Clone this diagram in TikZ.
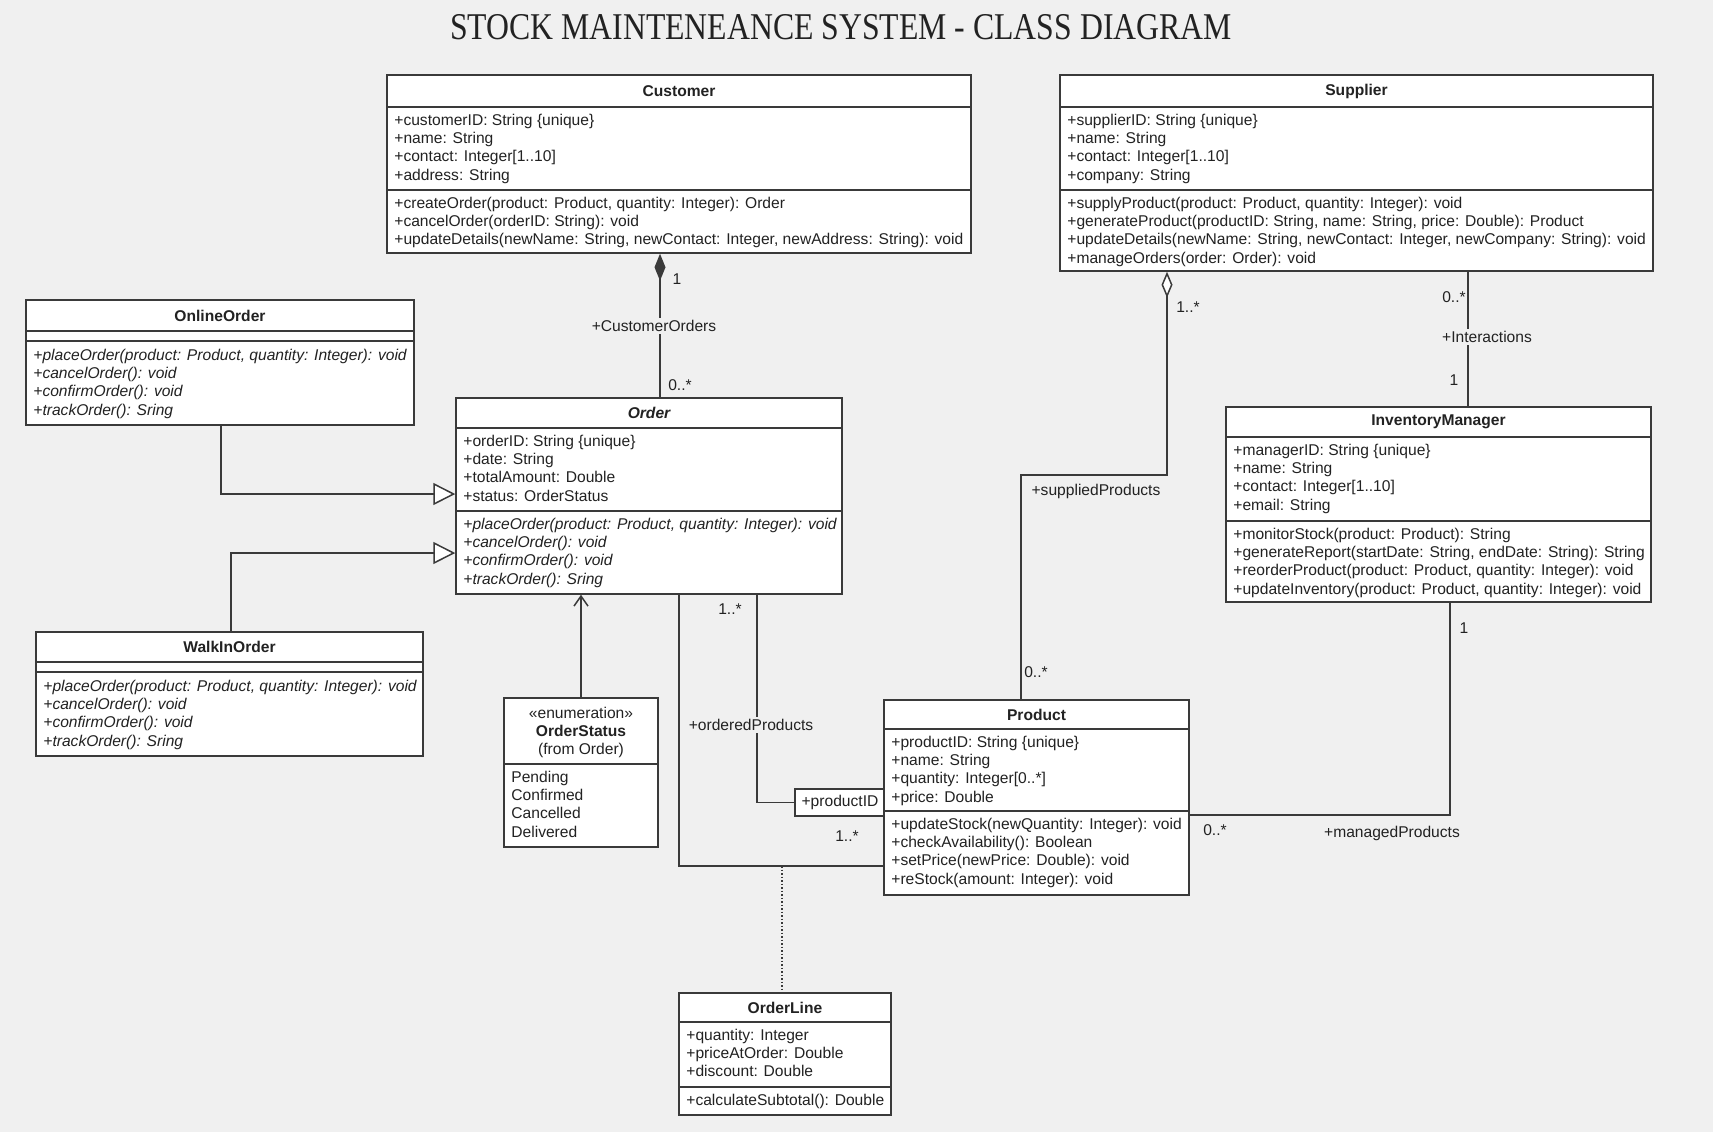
\documentclass[tikz,border=0pt]{standalone}
\usepackage{fontspec}
\setmainfont{Liberation Sans}
\newfontfamily\titlefont{Liberation Serif}
\usetikzlibrary{arrows.meta,fit}
\definecolor{bgc}{HTML}{F0F0F0}
\definecolor{linec}{HTML}{3A3A3A}
\definecolor{textc}{HTML}{222222}
\newcommand\bodyfont{\fontsize{7.8pt}{9.2pt}\selectfont}
\newcommand\rowtxt[1]{\hbox{#1}}
\newcommand\umlclass[8]{%
  \node[cls, fit={(#2,#3) (#4,#5)}] (#1) {};
  \draw[sepline] (#2,#6) -- (#4,#6);
  \if\relax\detokenize{#7}\relax\else\draw[sepline] (#2,#7) -- (#4,#7);\fi
  \node[ttl] (#1-title) at ({(#2+#4)/2},{(#3+#6)/2}) {#8};
}
\tikzset{
  cls/.style={draw=linec, line width=0.75pt, fill=white, inner sep=0pt},
  sepline/.style={draw=linec, line width=0.75pt},
  txt/.style={font=\bodyfont, text=textc, inner sep=0pt, anchor=base west},
  ttl/.style={font=\bodyfont\bfseries, text=textc, inner sep=0pt},
  lbl/.style={font=\bodyfont, text=textc, inner sep=1pt},
  lblbg/.style={lbl, fill=bgc},
  conn/.style={draw=linec, line width=0.75pt},
}
\begin{document}
\begin{tikzpicture}[x=0.5pt, y=-0.5pt]
\fill[bgc] (0,0) rectangle (1713,1132);
\useasboundingbox (0,0) rectangle (1713,1132);

\node[inner sep=0pt, text=textc] (title) at (841,27)
  {\scalebox{0.84}[1]{\titlefont\fontsize{18.9pt}{22pt}\selectfont STOCK MAINTENEANCE SYSTEM - CLASS DIAGRAM}};

% ---------- classes ----------
\umlclass{customer}{387}{75}{971}{253}{107}{190}{Customer}
\node[txt] (customer-a) at (394,125) {\vtop{%
  \rowtxt{+customerID: String \{unique\}}\rowtxt{+name: String}%
  \rowtxt{+contact: Integer[1..10]}\rowtxt{+address: String}}};
\node[txt] (customer-o) at (394,208) {\vtop{%
  \rowtxt{+createOrder(product: Product, quantity: Integer): Order}%
  \rowtxt{+cancelOrder(orderID: String): void}%
  \rowtxt{+updateDetails(newName: String, newContact: Integer, newAddress: String): void}}};

\umlclass{supplier}{1060}{75}{1653}{271}{107}{190}{Supplier}
\node[txt] (supplier-a) at (1067,125) {\vtop{%
  \rowtxt{+supplierID: String \{unique\}}\rowtxt{+name: String}%
  \rowtxt{+contact: Integer[1..10]}\rowtxt{+company: String}}};
\node[txt] (supplier-o) at (1067,208) {\vtop{%
  \rowtxt{+supplyProduct(product: Product, quantity: Integer): void}%
  \rowtxt{+generateProduct(productID: String, name: String, price: Double): Product}%
  \rowtxt{+updateDetails(newName: String, newContact: Integer, newCompany: String): void}%
  \rowtxt{+manageOrders(order: Order): void}}};

\umlclass{online}{26}{300}{414}{425}{331}{341}{OnlineOrder}
\node[txt] (online-o) at (33,360) {\vtop{\itshape
  \rowtxt{+placeOrder(product: Product, quantity: Integer): void}%
  \rowtxt{+cancelOrder(): void}\rowtxt{+confirmOrder(): void}\rowtxt{+trackOrder(): Sring}}};

\umlclass{order}{456}{398}{842}{594}{428}{511}{\itshape Order}
\node[txt] (order-a) at (463,446) {\vtop{%
  \rowtxt{+orderID: String \{unique\}}\rowtxt{+date: String}%
  \rowtxt{+totalAmount: Double}\rowtxt{+status: OrderStatus}}};
\node[txt] (order-o) at (463,529) {\vtop{\itshape
  \rowtxt{+placeOrder(product: Product, quantity: Integer): void}%
  \rowtxt{+cancelOrder(): void}\rowtxt{+confirmOrder(): void}\rowtxt{+trackOrder(): Sring}}};

\umlclass{walkin}{36}{632}{423}{756}{662}{672}{WalkInOrder}
\node[txt] (walkin-o) at (43,691) {\vtop{\itshape
  \rowtxt{+placeOrder(product: Product, quantity: Integer): void}%
  \rowtxt{+cancelOrder(): void}\rowtxt{+confirmOrder(): void}\rowtxt{+trackOrder(): Sring}}};

% enumeration
\node[cls, fit={(504,698) (658,847)}] (status) {};
\draw[sepline] (504,764) -- (658,764);
\node[lbl, inner sep=0pt] (status-st) at (581,713) {«enumeration»};
\node[ttl] (status-title) at (581,731) {OrderStatus};
\node[lbl, inner sep=0pt] (status-from) at (581,750) {(from Order)};
\node[txt] (status-v) at (511,782) {\vtop{%
  \rowtxt{Pending}\rowtxt{Confirmed}\rowtxt{Cancelled}\rowtxt{Delivered}}};

\umlclass{product}{884}{700}{1189}{895}{729}{811}{Product}
\node[txt] (product-a) at (891,747) {\vtop{%
  \rowtxt{+productID: String \{unique\}}\rowtxt{+name: String}%
  \rowtxt{+quantity: Integer[0..*]}\rowtxt{+price: Double}}};
\node[txt] (product-o) at (891,829) {\vtop{%
  \rowtxt{+updateStock(newQuantity: Integer): void}%
  \rowtxt{+checkAvailability(): Boolean}%
  \rowtxt{+setPrice(newPrice: Double): void}%
  \rowtxt{+reStock(amount: Integer): void}}};

\umlclass{manager}{1226}{407}{1651}{602}{437}{521}{InventoryManager}
\node[txt] (manager-a) at (1233,455) {\vtop{%
  \rowtxt{+managerID: String \{unique\}}\rowtxt{+name: String}%
  \rowtxt{+contact: Integer[1..10]}\rowtxt{+email: String}}};
\node[txt] (manager-o) at (1233,539) {\vtop{%
  \rowtxt{+monitorStock(product: Product): String}%
  \rowtxt{+generateReport(startDate: String, endDate: String): String}%
  \rowtxt{+reorderProduct(product: Product, quantity: Integer): void}%
  \rowtxt{+updateInventory(product: Product, quantity: Integer): void}}};

\umlclass{orderline}{679}{993}{891}{1115}{1022}{1087}{OrderLine}
\node[txt] (orderline-a) at (686,1040) {\vtop{%
  \rowtxt{+quantity: Integer}\rowtxt{+priceAtOrder: Double}\rowtxt{+discount: Double}}};
\node[txt] (orderline-o) at (686,1105) {\vtop{\rowtxt{+calculateSubtotal(): Double}}};

% qualifier
\node[cls, fit={(795,789) (884,816)}] (qual) {};
\node[lbl, inner sep=0pt] (qual-t) at (840,802) {+productID};

% ---------- connector guide coordinates ----------
\coordinate (xcomp) at (660,0);
\coordinate (xagg) at (1167,0);
\coordinate (yagg) at (0,475);
\coordinate (xprod) at (1021,0);
\coordinate (xint) at (1468,0);
\coordinate (xon) at (221,0);
\coordinate (yon) at (0,494);
\coordinate (xwalk) at (231,0);
\coordinate (ywalk) at (0,553);
\coordinate (xst) at (581,0);
\coordinate (xop) at (757,0);
\coordinate (xol) at (679,0);
\coordinate (yol) at (0,866);
\coordinate (assoc) at (782,866);
\coordinate (xman) at (1450,0);
\coordinate (yman) at (0,815);

% ---------- connectors ----------
\draw[conn, -{Diamond[length=13.5pt,width=5.5pt,fill=linec]}]
  (order.north -| xcomp) -- (customer.south -| xcomp);
\draw[conn, -{Diamond[length=13pt,width=5.5pt,fill=white]}]
  (product.north -| xprod) |- (yagg -| xagg) -- (supplier.south -| xagg);
\draw[conn] (manager.north -| xint) -- (supplier.south -| xint);
\draw[conn, -{Triangle[length=11pt,width=11pt,fill=white]}]
  (online.south -| xon) |- (order.west |- yon);
\draw[conn, -{Triangle[length=11pt,width=11pt,fill=white]}]
  (walkin.north -| xwalk) |- (order.west |- ywalk);
\draw[conn, -{Straight Barb[length=5pt,width=7pt]}]
  (status.north -| xst) -- (order.south -| xst);
\draw[conn] (order.south -| xop) |- (qual.west);
\draw[conn] (order.south -| xol) |- (product.west |- yol);
\draw[conn, densely dotted] (assoc) -- (orderline.north -| assoc);
\draw[conn] (product.east |- yman) -| (manager.south -| xman);

% ---------- labels ----------
\node[lbl] (l1) at (677,279) {1};
\node[lblbg] (l2) at (654,326) {+CustomerOrders};
\node[lbl] (l3) at (680,385) {0..*};
\node[lbl] (l4) at (1188,307) {1..*};
\node[lbl] (l5) at (1096,491) {+suppliedProducts};
\node[lbl] (l6) at (1036,672) {0..*};
\node[lbl] (l7) at (1454,297) {0..*};
\node[lblbg] (l8) at (1487,337) {+Interactions};
\node[lbl] (l9) at (1454,380) {1};
\node[lbl] (l10) at (730,609) {1..*};
\node[lblbg] (l11) at (751,725) {+orderedProducts};
\node[lbl] (l12) at (847,836) {1..*};
\node[lbl] (l13) at (1464,628) {1};
\node[lbl] (l14) at (1215,830) {0..*};
\node[lbl] (l15) at (1392,833) {+managedProducts};
\end{tikzpicture}
\end{document}
